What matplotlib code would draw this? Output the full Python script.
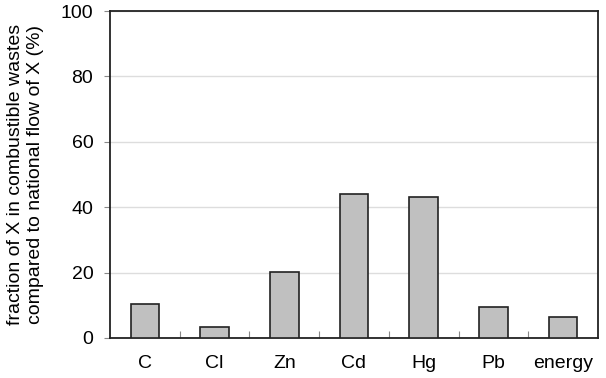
import matplotlib
matplotlib.use("Agg")
import matplotlib.pyplot as plt
import numpy as np

categories = ["C", "Cl", "Zn", "Cd", "Hg", "Pb", "energy"]
values = [10.4, 3.3, 20.1, 44.0, 43.0, 9.6, 6.5]
yticks = [0, 20, 40, 60, 80, 100]

plt.rcParams['font.family'] = ['Liberation Sans', 'DejaVu Sans']

fig = plt.figure(figsize=(6.06, 3.78), dpi=100)
ax = fig.add_axes([110/606, 1 - 338/378, 488/606, 327/378])

x = np.arange(len(categories))
ax.bar(x, values, width=0.41, color="#c0c0c0", edgecolor="#222222", linewidth=1.2, zorder=3)

ax.set_xlim(-0.5, len(categories) - 0.5)
ax.set_ylim(0, 100)
ax.set_yticks(yticks)
ax.yaxis.grid(True, color="#dddddd", linewidth=1.0, zorder=0)
ax.tick_params(axis='y', labelsize=14, length=4, width=0.8, color="#888888", pad=8)
ax.set_xticks(x)
ax.set_xticklabels(categories)
ax.tick_params(axis='x', labelsize=14, length=0, pad=12)

# category boundary ticks (inside)
ax.set_xticks(np.arange(len(categories) - 1) + 0.5, minor=True)
ax.tick_params(axis='x', which='minor', direction='in', length=5, width=0.8, color="#888888")

for s in ax.spines.values():
    s.set_color("#222222")
    s.set_linewidth(1.3)

ax.set_ylabel("fraction of X in combustible wastes\ncompared to national flow of X (%)",
              fontsize=14, labelpad=12, linespacing=1.25)

fig.savefig("out.png", dpi=100)
